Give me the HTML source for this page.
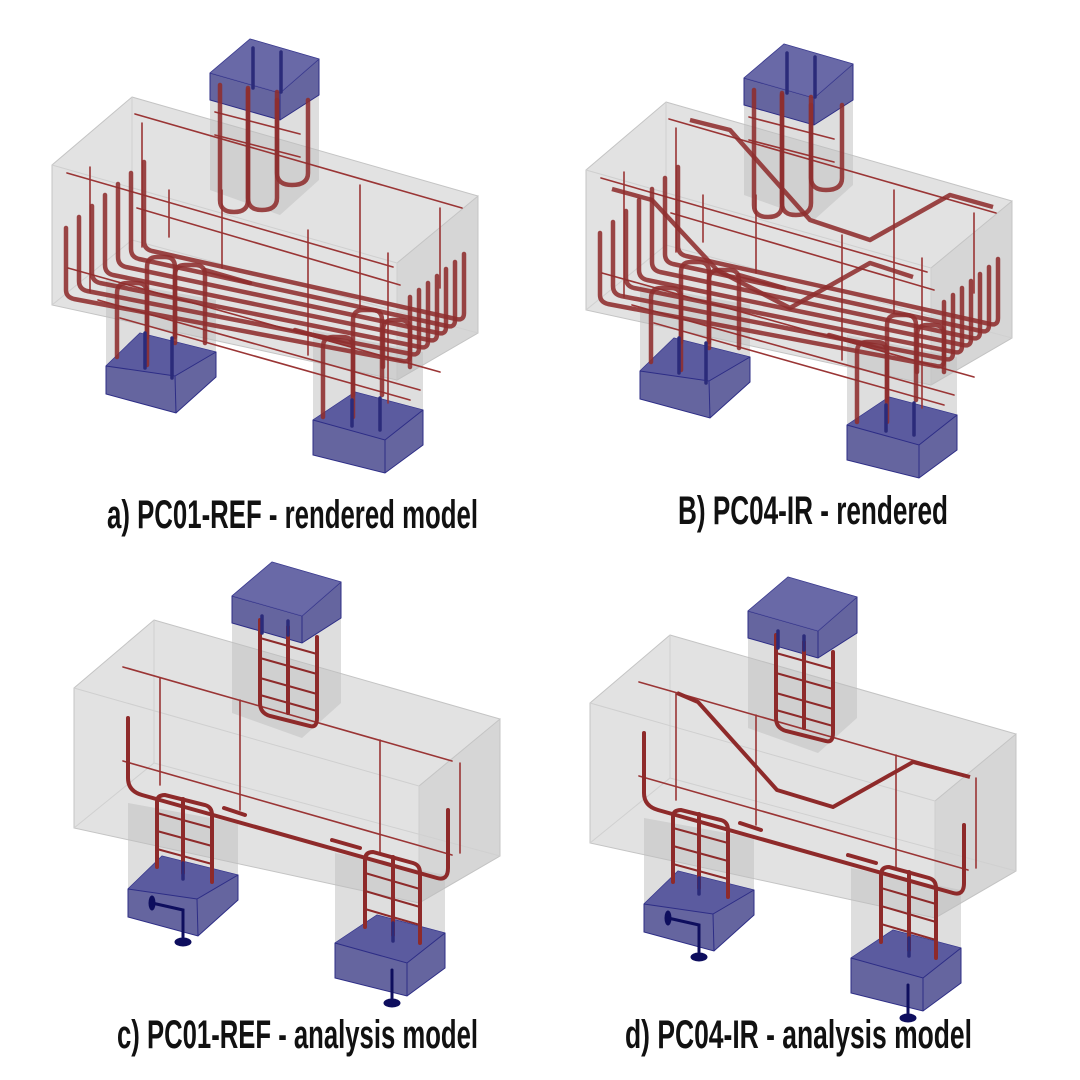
<!DOCTYPE html>
<html><head><meta charset="utf-8"><style>
html,body{margin:0;padding:0;background:#fff;}
svg{display:block;}
text{font-family:"Liberation Sans Narrow","Liberation Sans",sans-serif;font-weight:bold;fill:#111;}
</style></head><body>
<svg width="1080" height="1080" viewBox="0 0 1080 1080" xmlns="http://www.w3.org/2000/svg">
<defs>
<g id="frame">
  <!-- beam -->
  <polygon points="132,97 478,196 478,333 397,380 52,305 52,165" fill="#e2e2e2" stroke="#c4c4c4" stroke-width="1"/>
  <polygon points="397,263 478,196 478,333 397,380" fill="#d6d6d6" stroke="#c4c4c4" stroke-width="1"/>
  <polyline points="52,165 397,263 397,380" fill="none" stroke="#cfcfcf" stroke-width="1"/>
  <polyline points="132,97 132,240 52,305 M132,240 478,333" fill="none" stroke="#d0d0d0" stroke-width="1"/>
  <line x1="132" y1="240" x2="478" y2="333" stroke="#d0d0d0"/>
  <!-- top column gray -->
  <polygon points="210,100 280,120 319,95 319,180 280,215 210,190" fill="#bdbdbd" fill-opacity="0.5"/>
  <!-- top blue box -->
  <polygon points="210,73 250,39 319,59 319,95 280,120 210,100" fill="#4a4a8e" fill-opacity="0.85" stroke="#2d2d86" stroke-width="1"/>
  <polyline points="210,73 280,93 319,59 M280,93 280,120" fill="none" stroke="#2d2d86" stroke-width="1"/>
  <line x1="280" y1="93" x2="280" y2="120" stroke="#2d2d86"/>
  <polygon points="210,73 250,39 319,59 280,93" fill="#6c6cae" fill-opacity="0.6"/>
  <!-- left footing column gray -->
  <polygon points="106,280 216,300 216,352 175,376 106,366" fill="#bdbdbd" fill-opacity="0.5"/>
  <!-- left footing -->
  <polygon points="106,366 140,333 216,352 216,377 176,413 106,394" fill="#4a4a8e" fill-opacity="0.85" stroke="#2d2d86" stroke-width="1"/>
  <polygon points="106,366 140,333 216,352 175,376" fill="#5a5aa0" fill-opacity="0.8"/>
  <polyline points="106,366 175,376 216,352" fill="none" stroke="#2d2d86"/>
  <line x1="175" y1="376" x2="176" y2="413" stroke="#2d2d86"/>
  <!-- right footing column gray -->
  <polygon points="313,330 423,352 423,410 385,440 313,420" fill="#bdbdbd" fill-opacity="0.5"/>
  <!-- right footing -->
  <polygon points="313,420 355,392 423,410 423,445 385,473 313,455" fill="#4a4a8e" fill-opacity="0.85" stroke="#2d2d86" stroke-width="1"/>
  <polygon points="313,420 355,392 423,410 385,440" fill="#5a5aa0" fill-opacity="0.8"/>
  <polyline points="313,420 385,440 423,410" fill="none" stroke="#2d2d86"/>
  <line x1="385" y1="440" x2="385" y2="473" stroke="#2d2d86"/>
</g>

<g id="rebA" fill="none" stroke-linecap="round">
  <g stroke="#9a3535" stroke-width="1.6">
    <line x1="135" y1="114" x2="462" y2="208"/>
    <line x1="67" y1="173" x2="393" y2="267"/>
    <line x1="137" y1="208" x2="400" y2="285"/>
    <line x1="68" y1="268" x2="440" y2="372"/>
    <line x1="98" y1="300" x2="420" y2="390"/>
    <line x1="120" y1="318" x2="410" y2="400"/>
    <line x1="90" y1="167" x2="90" y2="292"/>
    <line x1="142" y1="123" x2="142" y2="247"/>
    <line x1="169" y1="190" x2="169" y2="237"/>
    <line x1="222" y1="190" x2="222" y2="268"/>
    <line x1="308" y1="230" x2="308" y2="355"/>
    <line x1="360" y1="185" x2="360" y2="308"/>
    <line x1="440" y1="208" x2="440" y2="288"/>
    <line x1="388" y1="253" x2="388" y2="403"/>
    <line x1="215" y1="112" x2="300" y2="134"/>
    <line x1="215" y1="135" x2="300" y2="157"/>
  </g>
  <g stroke="#8e2e2e" stroke-width="4.5" stroke-opacity="0.88">
    <path d="M66,228 V290 Q66,297 74,299 L402,361 Q410,363 410,355 V297"/>
    <path d="M79,217 V281 Q79,289 87,291 L411,354 Q419,356 419,348 V290"/>
    <path d="M92,206 V273 Q92,281 100,283 L420,347 Q428,349 428,341 V283"/>
    <path d="M105,195 V265 Q105,273 113,275 L429,340 Q437,342 437,334 V276"/>
    <path d="M118,184 V257 Q118,265 126,267 L438,333 Q446,335 446,327 V269"/>
    <path d="M131,173 V249 Q131,257 139,259 L447,326 Q455,328 455,320 V262"/>
    <path d="M144,162 V241 Q144,249 152,251 L456,319 Q464,321 464,313 V254"/>
    <path d="M117,357 V293 Q117,283 127,283 H137 Q147,283 147,293 V365"/>
    <path d="M147,337 V267 Q147,257 157,257 H165 Q175,257 175,267 V337"/>
    <path d="M175,343 V275 Q175,265 185,265 H195 Q205,265 205,275 V343"/>
    <path d="M323,417 V347 Q323,337 333,337 H343 Q353,337 353,347 V417"/>
    <path d="M353,395 V320 Q353,310 363,310 H372 Q382,310 382,320 V395"/>
    <path d="M383,367 V330 Q383,320 393,320 H400 Q410,320 410,330 V367"/>
    <path d="M220,85 V200 Q220,212 234,212 Q248,212 248,200 V88"/>
    <path d="M248,90 V198 Q248,210 262,210 Q277,210 277,198 V92"/>
    <path d="M277,100 V173 Q277,185 292,185 Q308,185 308,173 V100"/>
    <line x1="205" y1="270" x2="250" y2="283"/>
    <line x1="295" y1="330" x2="350" y2="345"/>
  </g>
  <g stroke="#2b2b7a" stroke-width="3.5">
    <line x1="253" y1="48" x2="253" y2="88"/><line x1="281" y1="52" x2="281" y2="92"/>
    <line x1="145" y1="333" x2="145" y2="368"/><line x1="172" y1="338" x2="172" y2="378"/>
    <line x1="352" y1="400" x2="352" y2="426"/><line x1="380" y1="398" x2="380" y2="430"/>
  </g>
</g>

<g id="rebC" fill="none" stroke-linecap="round">
  <g stroke="#9a3535" stroke-width="1.6">
    <line x1="101" y1="144" x2="430" y2="238"/>
    <line x1="101" y1="238" x2="430" y2="332"/>
    <line x1="138" y1="155" x2="138" y2="262"/>
    <line x1="218" y1="177" x2="218" y2="287"/>
    <line x1="358" y1="217" x2="358" y2="330"/>
    <line x1="438" y1="240" x2="438" y2="330"/>
  </g>
  <g stroke="#8e2a2a" stroke-width="4">
    <path d="M106,195 V255 Q106,268 120,272 L415,355 Q426,358 426,345 V287"/>
    <line x1="202" y1="285" x2="223" y2="292"/>
    <line x1="310" y1="317" x2="338" y2="325"/>
    <path d="M135,344 V279 Q135,272 143,272 L183,282 Q190,284 190,292 V359"/>
    <line x1="161" y1="276" x2="161" y2="350"/>
    <path d="M238,97 V180 Q238,190 248,193 L288,203 Q295,205 295,195 V114"/>
    <line x1="266" y1="104" x2="266" y2="190"/>
    <path d="M343,404 V337 Q343,329 351,329 L391,340 Q398,342 398,350 V420"/>
    <line x1="371" y1="334" x2="371" y2="412"/>
  </g>
  <g stroke="#8e2a2a" stroke-width="2">
    <line x1="135" y1="290" x2="190" y2="305"/>
    <line x1="135" y1="308" x2="190" y2="323"/>
    <line x1="135" y1="326" x2="190" y2="341"/>
    <line x1="238" y1="115" x2="295" y2="131"/>
    <line x1="238" y1="135" x2="295" y2="151"/>
    <line x1="238" y1="155" x2="295" y2="171"/>
    <line x1="238" y1="172" x2="295" y2="188"/>
    <line x1="343" y1="350" x2="398" y2="366"/>
    <line x1="343" y1="368" x2="398" y2="384"/>
    <line x1="343" y1="386" x2="398" y2="402"/>
  </g>
  <g stroke="#2b2b7a" stroke-width="3.5">
    <line x1="240" y1="93" x2="240" y2="110"/><line x1="266" y1="98" x2="266" y2="112"/>
    <line x1="161" y1="340" x2="161" y2="356"/><line x1="371" y1="400" x2="371" y2="418"/>
  </g>
  <g fill="#0e0e5e" stroke="#0e0e5e">
    <ellipse cx="130" cy="380" rx="3" ry="7"/>
    <polyline points="130,380 161,387 161,417" fill="none" stroke-width="3"/>
    <ellipse cx="161" cy="419" rx="8" ry="4"/>
    <line x1="370" y1="447" x2="370" y2="478" stroke-width="3"/>
    <ellipse cx="370" cy="480" rx="8" ry="4"/>
  </g>
</g>
</defs>

<!-- a -->
<use href="#frame"/>
<use href="#rebA"/>
<!-- b -->
<g transform="translate(534,5)">
  <use href="#frame"/>
  <use href="#rebA"/>
  <g fill="none" stroke="#8e2e2e" stroke-width="4.5" stroke-opacity="0.88" stroke-linejoin="round">
    <polyline points="156,115 196,125 276,215 336,235 416,190 459,202"/>
    <polyline points="78,184 118,195 183,265 256,303 336,258 379,272"/>
  </g>
</g>
<!-- c -->
<g transform="translate(22,523)">
  <use href="#frame"/>
  <use href="#rebC"/>
</g>
<!-- d -->
<g transform="translate(538,538)">
  <use href="#frame"/>
  <use href="#rebC"/>
  <polyline points="139,155 160,164 239,252 295,269 375,224 432,239" fill="none" stroke="#8e2a2a" stroke-width="4" stroke-linejoin="round"/>
</g>

<text x="107" y="528" font-size="40" textLength="371" lengthAdjust="spacingAndGlyphs">a) PC01-REF -  rendered model</text>
<text x="678" y="524" font-size="40" textLength="270" lengthAdjust="spacingAndGlyphs">B) PC04-IR - rendered</text>
<text x="117" y="1048" font-size="40" textLength="361" lengthAdjust="spacingAndGlyphs">c) PC01-REF -  analysis model</text>
<text x="625" y="1048" font-size="40" textLength="347" lengthAdjust="spacingAndGlyphs">d) PC04-IR -  analysis model</text>
</svg>
</body></html>
